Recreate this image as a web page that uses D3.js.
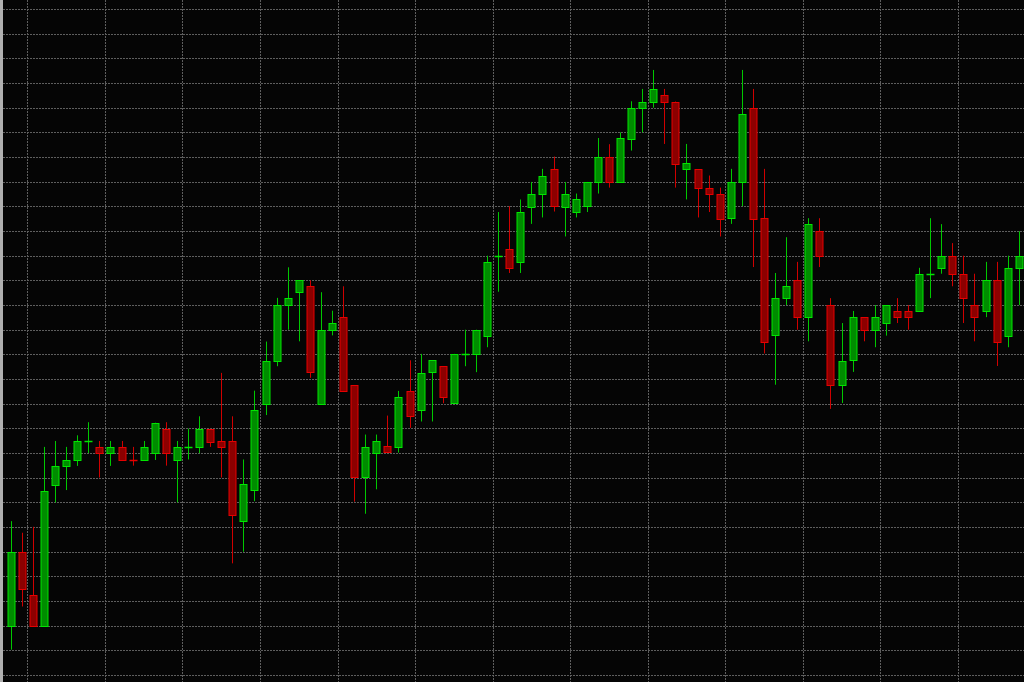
<!DOCTYPE html>
<html><head><meta charset="utf-8">
<script src="https://cdn.jsdelivr.net/npm/d3@7"></script>
<style>html,body{margin:0;padding:0;background:#050505;overflow:hidden}</style>
</head><body>
<svg id="chart" width="1024" height="682"></svg>
<script>
const openPrices = [125.00,128.00,126.24,125.00,130.73,131.48,131.72,132.48,132.23,132.00,
132.23,131.73,131.72,132.00,132.99,131.72,132.23,132.25,132.99,132.48,
132.48,129.24,130.50,134.02,135.75,138.00,138.52,138.76,134.02,136.99,
137.52,134.76,131.03,132.02,132.27,132.25,134.52,133.75,135.26,135.52,
134.02,136.02,136.02,136.76,140.00,140.27,139.75,142.01,142.52,143.52,
142.01,141.77,142.01,142.99,143.99,142.99,144.76,146.00,146.25,146.52,
146.25,143.51,143.51,142.76,142.52,141.52,142.99,146.00,141.52,136.76,
138.28,139.00,137.51,141.01,138.00,134.76,135.75,137.51,137.00,137.27,
137.76,137.76,137.76,139.27,139.51,140.00,139.27,138.00,137.76,139.00,
136.76,139.51];
const highPrices = [129.24,128.77,129.01,132.25,132.49,132.25,132.72,133.25,132.49,132.49,
132.49,132.25,132.49,133.23,133.25,132.49,132.99,133.49,132.99,135.25,
133.49,131.74,134.53,136.52,138.29,139.53,139.00,139.00,138.52,137.77,
138.76,134.76,132.75,132.75,133.52,134.52,135.76,136.02,135.76,135.52,
136.02,137.00,137.00,140.00,141.77,142.01,142.28,142.99,143.52,144.02,
142.99,142.52,142.99,144.77,144.52,145.00,146.26,146.76,147.53,146.76,
146.25,144.53,143.51,143.25,142.76,143.52,147.53,146.76,143.52,139.30,
140.75,139.75,141.52,141.52,138.28,137.27,137.76,137.51,138.00,138.00,
138.28,138.00,139.51,141.52,141.28,140.51,140.00,139.27,139.75,139.75,
140.00,140.99];
const lowPrices = [124.03,125.78,124.98,125.00,130.00,130.50,131.48,132.00,131.01,131.48,
131.70,131.49,131.72,131.72,131.49,130.00,131.74,132.00,132.25,131.01,
127.53,128.00,130.05,133.54,135.52,137.00,136.53,135.05,134.00,136.77,
134.52,130.03,129.54,130.53,132.02,132.02,133.02,133.28,133.28,134.02,
134.02,135.52,135.28,136.29,138.54,139.30,139.30,141.29,141.55,141.79,
140.78,141.55,141.77,142.52,142.76,142.99,144.26,145.00,146.00,144.53,
142.76,142.28,141.55,141.77,140.78,141.29,142.01,139.54,136.04,134.77,
138.00,137.00,136.53,139.54,133.79,134.03,135.29,136.53,136.29,136.76,
137.27,137.00,137.76,138.28,139.27,138.76,137.27,136.53,137.51,135.53,
136.29,138.00];
const closePrices = [128.00,126.48,125.00,130.48,131.48,131.72,132.48,132.48,132.00,132.23,
131.72,131.72,132.23,133.23,132.00,132.23,132.23,132.99,132.48,132.23,
129.49,130.73,133.74,135.75,138.00,138.27,139.00,135.28,137.00,137.27,
134.52,131.03,132.25,132.50,132.02,134.26,133.52,135.26,135.76,134.26,
136.02,136.02,137.00,139.75,140.00,139.51,141.77,142.52,143.25,142.01,
142.52,142.28,142.99,143.99,142.99,144.76,146.00,146.25,146.76,146.25,
143.75,143.75,142.76,142.52,141.52,142.99,145.76,141.52,136.50,138.28,
138.76,137.51,141.28,140.00,134.76,135.75,137.51,137.00,137.51,138.00,
137.51,137.51,139.27,139.27,140.00,139.27,138.28,137.51,139.00,136.50,
139.51,140.00];
const barIndex = d3.range(openPrices.length);
const separatorBars = [2,9,16,23,30,37,44,51,58,65,72,79,86];

const W = 1024, H = 682;
const svg = d3.select("#chart");
svg.append("rect").attr("width", W).attr("height", H).attr("fill", "#050505");

const x = d3.scaleBand().domain(barIndex).range([5.26, 5.26 + 11.077 * barIndex.length]).padding(0);
const y = d3.scaleLinear().domain([122.72, 150.365]).range([H, 0]);
const crisp = v => Math.round(v) + 0.5;

// horizontal grid
svg.append("g").selectAll("line").data(y.ticks(28)).join("line")
  .attr("x1", 0).attr("x2", W)
  .attr("y1", d => crisp(y(d))).attr("y2", d => crisp(y(d)))
  .attr("stroke", "#5e5e5e").attr("stroke-width", 1).attr("stroke-dasharray", "2,1");
// vertical grid
svg.append("g").selectAll("line").data(separatorBars).join("line")
  .attr("y1", 0).attr("y2", H)
  .attr("x1", d => crisp(x(d))).attr("x2", d => crisp(x(d)))
  .attr("stroke", "#5e5e5e").attr("stroke-width", 1).attr("stroke-dasharray", "2,1");

// left border
svg.append("rect").attr("x", 0).attr("y", 0).attr("width", 3).attr("height", H).attr("fill", "#b0b0b0");

const candles = barIndex.map(i => ({i, o: openPrices[i], h: highPrices[i], l: lowPrices[i], c: closePrices[i]}));
const cx = d => Math.round(x(d.i) + x.bandwidth() / 2) + 0.5;
const bull = d => d.c >= d.o;

const g = svg.append("g");
g.selectAll("line.wick").data(candles).join("line").attr("class", "wick")
  .attr("x1", cx).attr("x2", cx)
  .attr("y1", d => y(d.h)).attr("y2", d => y(d.l))
  .attr("stroke", d => bull(d) ? "#00c800" : "#d00000").attr("stroke-width", 1);

const bodies = candles.filter(d => Math.abs(y(d.o) - y(d.c)) >= 1.5);
const dojis = candles.filter(d => Math.abs(y(d.o) - y(d.c)) < 1.5);

g.selectAll("rect.body").data(bodies).join("rect").attr("class", "body")
  .attr("x", d => cx(d) - 3.5)
  .attr("width", 7)
  .attr("y", d => crisp(y(Math.max(d.o, d.c))))
  .attr("height", d => Math.round(Math.abs(y(d.o) - y(d.c))))
  .attr("fill", d => bull(d) ? "#008c00" : "#8c0000")
  .attr("stroke", d => bull(d) ? "#00e600" : "#e60000").attr("stroke-width", 1);

g.selectAll("line.doji").data(dojis).join("line").attr("class", "doji")
  .attr("x1", d => cx(d) - 4).attr("x2", d => cx(d) + 4)
  .attr("y1", d => crisp(y(d.c))).attr("y2", d => crisp(y(d.c)))
  .attr("stroke", d => bull(d) ? "#00e600" : "#e60000").attr("stroke-width", 1.5);
</script>
</body></html>
